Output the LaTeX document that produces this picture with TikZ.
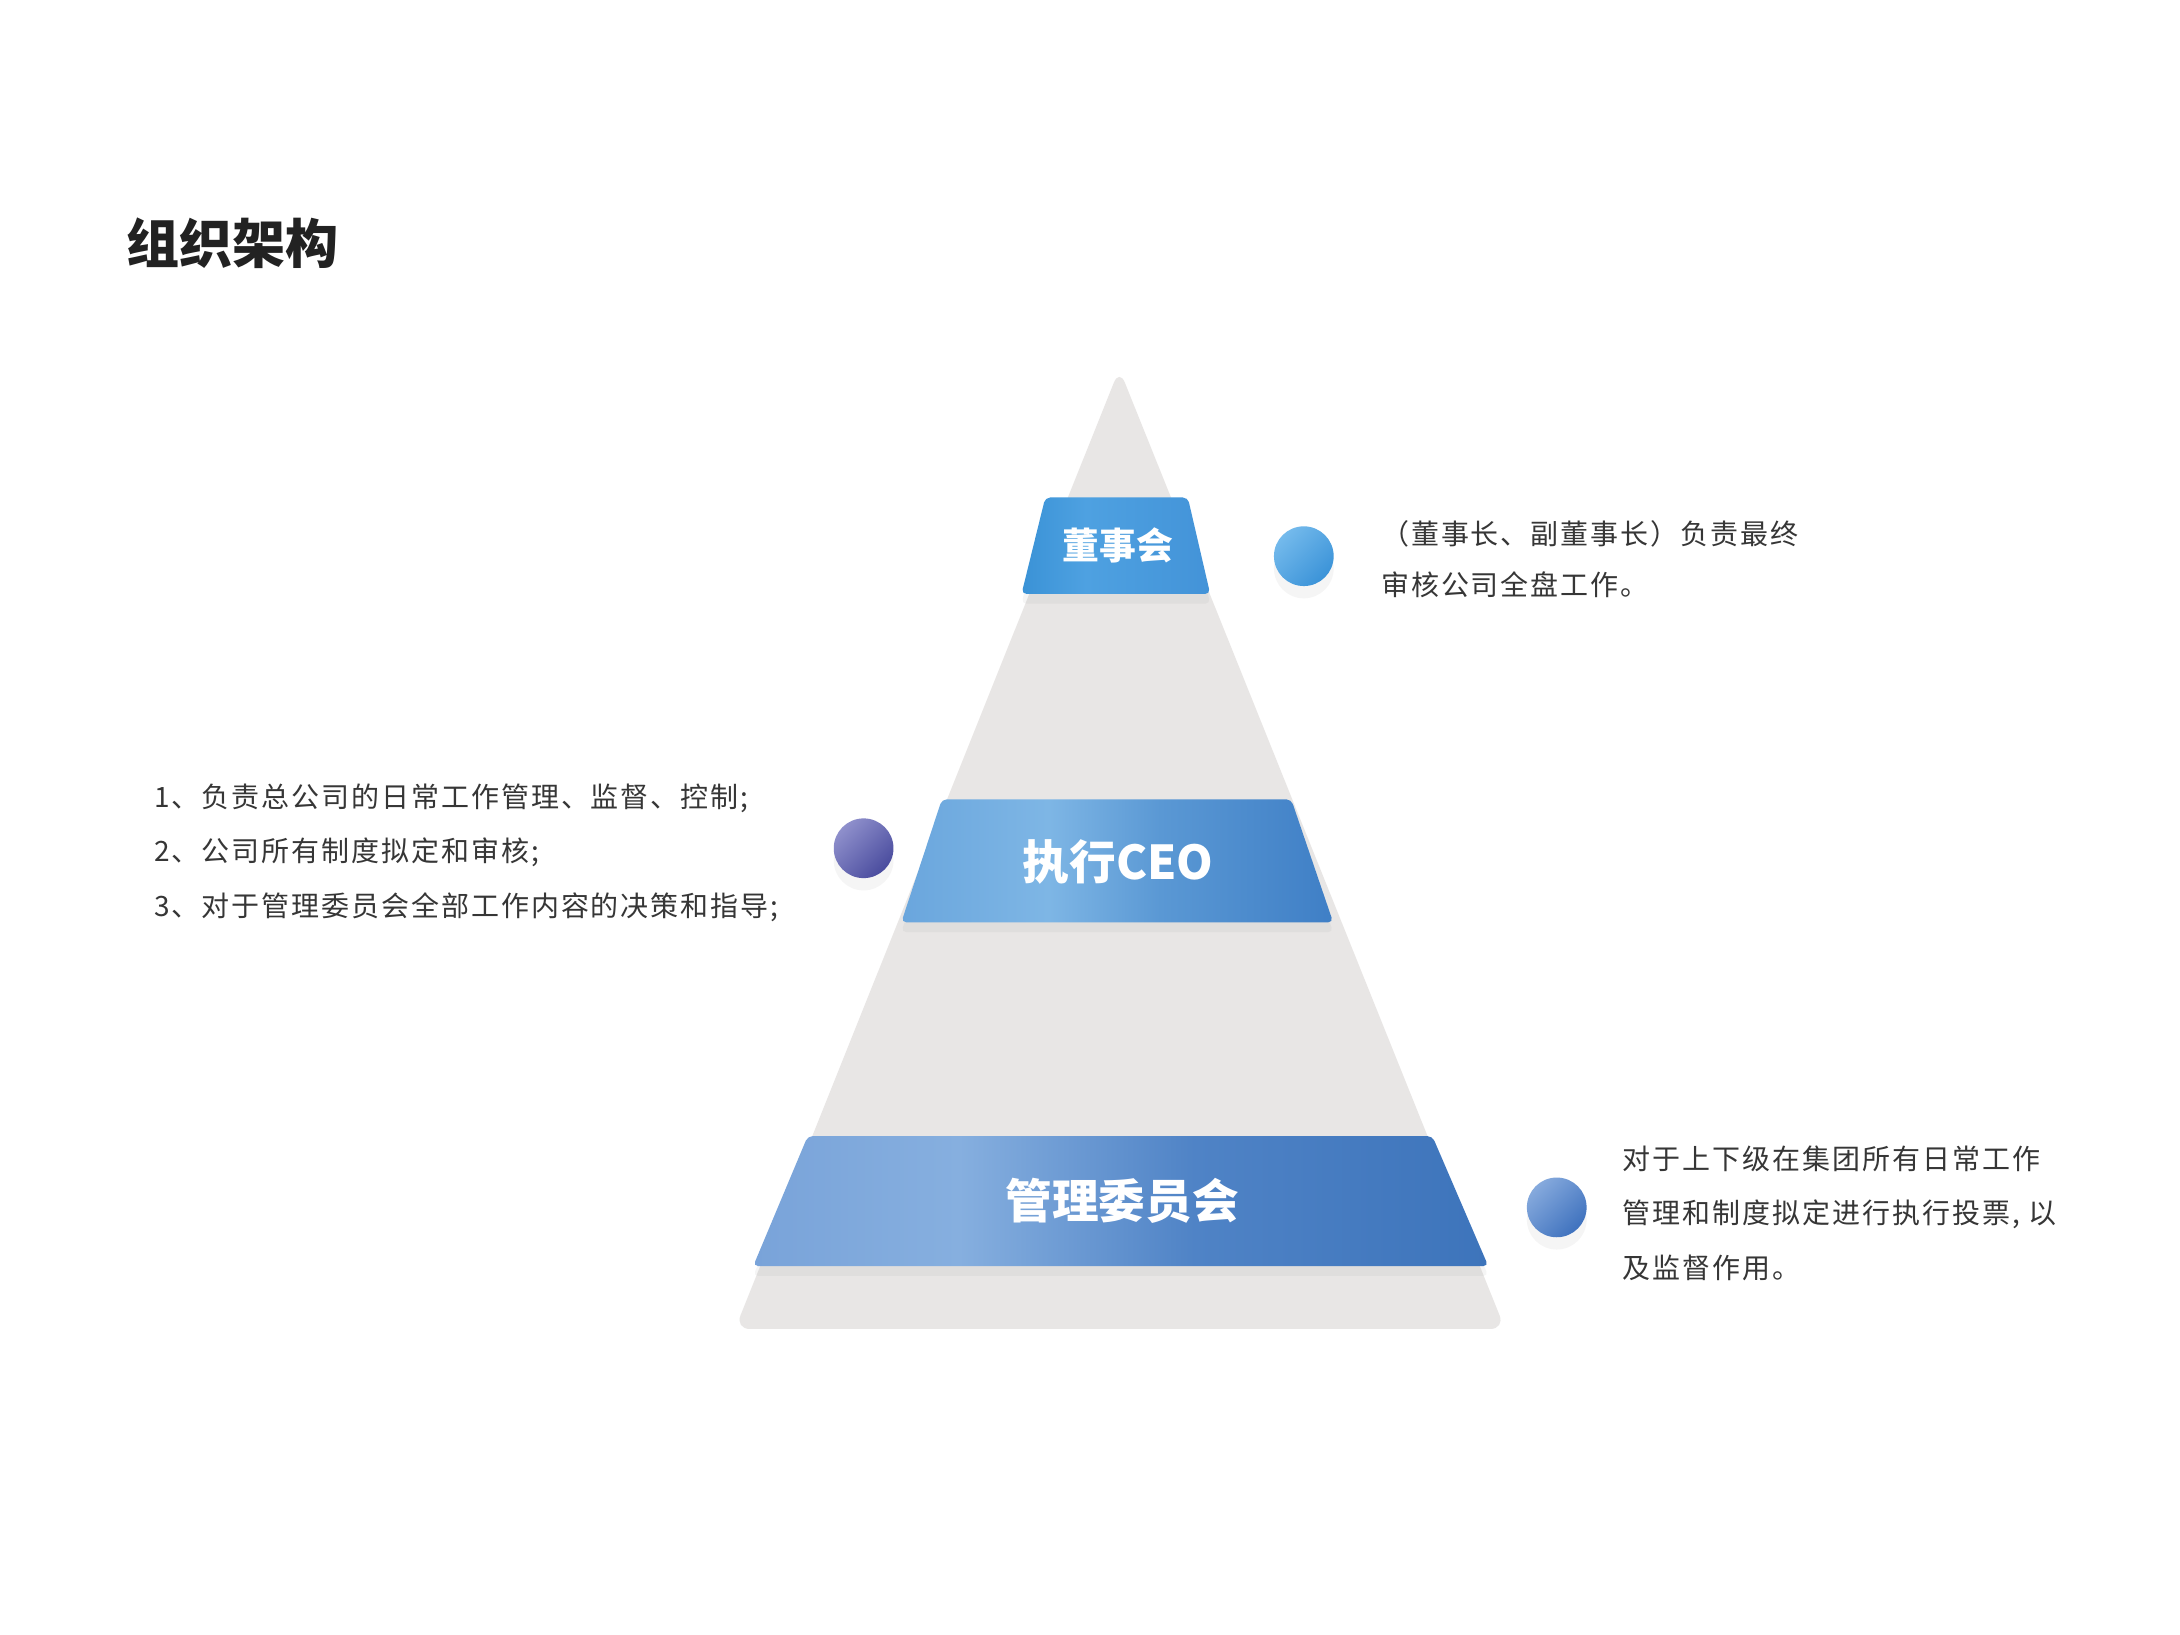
\documentclass[tikz,border=0pt]{standalone}
\usepackage{fontspec}
\setmainfont{Noto Sans CJK SC}
\newfontfamily\bodyfont{Noto Sans CJK SC}[LetterSpace=7]
\usetikzlibrary{shadows}
\usetikzlibrary{positioning}

\definecolor{pyrgray}{HTML}{E8E6E5}
\definecolor{textgray}{HTML}{363636}
\definecolor{titlegray}{HTML}{222222}
% band colours
\definecolor{boardL}{HTML}{3A92D6}
\definecolor{boardM}{HTML}{4EA1E1}
\definecolor{boardR}{HTML}{4393D8}
\definecolor{ceoL}{HTML}{6AA6DD}
\definecolor{ceoM}{HTML}{7EB6E5}
\definecolor{ceoN}{HTML}{5A98D4}
\definecolor{ceoR}{HTML}{3F7FC6}
\definecolor{comL}{HTML}{79A3D9}
\definecolor{comM}{HTML}{86AFDF}
\definecolor{comN}{HTML}{4F83C6}
\definecolor{comR}{HTML}{3D74BB}
% ball colours
\definecolor{dotAtop}{HTML}{74BAEC}
\definecolor{dotAbot}{HTML}{3B93D8}
\definecolor{dotBtop}{HTML}{8F90CC}
\definecolor{dotBbot}{HTML}{4A4C9E}
\definecolor{dotCtop}{HTML}{86AADD}
\definecolor{dotCbot}{HTML}{3F72BE}
\pgfdeclarehorizontalshading{boardshade}{100bp}{color(0bp)=(boardL); color(25bp)=(boardL);
  color(42bp)=(boardM); color(75bp)=(boardR); color(100bp)=(boardR)}
\pgfdeclarehorizontalshading{ceoshade}{100bp}{color(0bp)=(ceoL); color(25bp)=(ceoL);
  color(42bp)=(ceoM); color(55bp)=(ceoN); color(75bp)=(ceoR); color(100bp)=(ceoR)}
\pgfdeclarehorizontalshading{comshade}{100bp}{color(0bp)=(comL); color(25bp)=(comL);
  color(39bp)=(comM); color(55bp)=(comN); color(75bp)=(comR); color(100bp)=(comR)}

\begin{document}
\begin{tikzpicture}[x=0.02cm,y=-0.02cm,
    band/.style={rounded corners=2pt,
      drop shadow={opacity=0.08,shadow xshift=0pt,shadow yshift=-4pt}},
    ball/.style={circle,minimum size=0.855cm,inner sep=0pt,
      drop shadow={opacity=0.08,shadow xshift=0pt,shadow yshift=-5pt}},
    tag/.style={text=white,font=\bfseries\fontsize{19pt}{19pt}\selectfont},
    desc/.style={anchor=west,align=left,inner sep=0pt,text=textgray,
      font=\bodyfont\fontsize{11.4pt}{22.2pt}\selectfont}]
          \useasboundingbox[fill=white] (0,0) rectangle (1560,1170);

          % pyramid
          \coordinate (top) at (801,264);
          \coordinate (bl) at (526,951);
          \coordinate (br) at (1077,951);
          \fill[pyrgray,rounded corners=6pt] (bl) -- (top) -- (br) -- cycle;

          % bands
          \shade[band,shading=boardshade] (748,356) -- (850,356) -- (866,425) -- (731,425) -- cycle;
          \shade[band,shading=ceoshade] (674,572) -- (924,572) -- (954,660) -- (645,660) -- cycle;
          \shade[band,shading=comshade] (578,813) -- (1025,813) -- (1065,906) -- (539,906) -- cycle;

          \node[tag,font=\bfseries\fontsize{15pt}{15pt}\selectfont] (board) at (800,390) {董事会};
          \node[tag] (ceo) at (800,617) {执行CEO};
          \node[tag] (committee) at (803,859) {管理委员会};

          % balls
          \node[ball,top color=dotAtop,bottom color=dotAbot,shading angle=45] (dotA) at (933,398) {};
          \node[ball,top color=dotBtop,bottom color=dotBbot,shading angle=45] (dotB) at (618,607) {};
          \node[ball,top color=dotCtop,bottom color=dotCbot,shading angle=45] (dotC) at (1114,864) {};

          % texts
          \node[anchor=west,inner sep=0pt,text=titlegray,font=\bfseries\fontsize{21.6pt}{24pt}\selectfont]
            (title) at (90,174) {组织架构};
          \node[desc,font=\bodyfont\fontsize{11.4pt}{21pt}\selectfont] (descA) at (988,400)
            {（董事长、副董事长）负责最终\\审核公司全盘工作。};
          \node[desc] (descB) at (110,610)
            {1、负责总公司的日常工作管理、监督、控制;\\2、公司所有制度拟定和审核;\\3、对于管理委员会全部工作内容的决策和指导;};
          \node[desc] (descC) at (1161,868)
            {对于上下级在集团所有日常工作\\管理和制度拟定进行执行投票, 以\\及监督作用。};
        \end{tikzpicture}
\end{document}
